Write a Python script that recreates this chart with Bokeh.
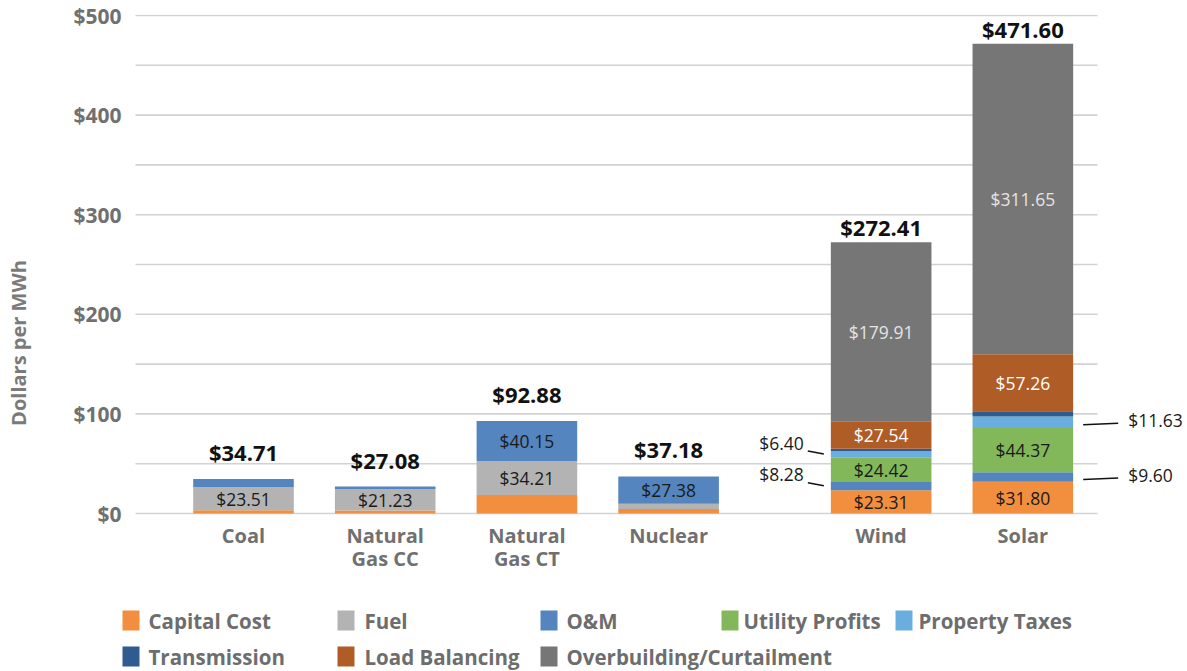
import numpy as np
from bokeh.plotting import figure
from bokeh.models import ColumnDataSource, FixedTicker, Range1d, PrintfTickFormatter
from bokeh.embed import file_html
from bokeh.resources import INLINE
from bokeh.core.properties import value

# ---------------- data ----------------
categories = ["Coal", "Natural\nGas CC", "Natural\nGas CT", "Nuclear", "Wind", "Solar"]
series = ["Capital Cost", "Fuel", "O&M", "Utility Profits", "Property Taxes",
          "Transmission", "Load Balancing", "Overbuilding/Curtailment"]
capital_cost = [3.2, 3.0, 18.52, 4.5, 23.31, 31.80]
fuel = [23.51, 21.23, 34.21, 5.3, 0, 0]
om = [8.0, 2.85, 40.15, 27.38, 8.28, 9.60]
utility_profits = [0, 0, 0, 0, 24.42, 44.37]
property_taxes = [0, 0, 0, 0, 6.40, 11.63]
transmission = [0, 0, 0, 0, 2.55, 5.29]
load_balancing = [0, 0, 0, 0, 27.54, 57.26]
overbuilding = [0, 0, 0, 0, 179.91, 311.65]
totals = [34.71, 27.08, 92.88, 37.18, 272.41, 471.60]
y_label_ticks = [0, 100, 200, 300, 400, 500]
y_grid_ticks = [0, 50, 100, 150, 200, 250, 300, 350, 400, 450, 500]
callouts = [("O&M", "Wind"), ("Property Taxes", "Wind"), ("O&M", "Solar"), ("Property Taxes", "Solar")]

# ---------------- styles / layout ----------------
colors = ["#F18F3F", "#B3B3B3", "#5485BF", "#82B85A", "#6AAEDF", "#2F5B90", "#B05C27", "#767676"]
text_cols = ["#1a1a1a", "#1a1a1a", "#1a1a1a", "#1a1a1a", "#1a1a1a", "#1a1a1a", "#ffffff", "#e4e4e4"]
x_pos = [0, 1, 2, 3, 4.5, 5.5]
bar_w = 0.71
FONT = "Open Sans"
GREY = "#707070"
W, H = 1187, 671
BL, BT = 121, 14            # frame left / top (page px)
PXX = 141.7                 # pixels per x unit
PXY = 498 / 500             # pixels per dollar
X0, Y0 = 243, 513           # page px of first category centre, of $0


def dx(img_x):
    return (img_x - X0) / PXX


def dy(img_y):
    return (Y0 - img_y) / PXY


x_start, x_end = dx(BL), dx(W)
y_start, y_end = dy(H), dy(BT)

keys = ["s%d" % i for i in range(len(series))]
data = [capital_cost, fuel, om, utility_profits, property_taxes, transmission, load_balancing, overbuilding]
src = ColumnDataSource(dict(x=x_pos, **{k: v for k, v in zip(keys, data)}))

p = figure(width=W, height=H, x_range=Range1d(x_start, x_end), y_range=Range1d(y_start, y_end),
           toolbar_location=None, output_backend="svg", x_axis_location=None,
           min_border_left=BL, min_border_right=0, min_border_top=BT, min_border_bottom=0)
p.outline_line_color = None
p.grid.visible = False

# gridlines (limited horizontal extent)
n = len(y_grid_ticks)
p.segment(x0=[dx(135)] * n, y0=y_grid_ticks, x1=[dx(1097)] * n, y1=y_grid_ticks,
          line_color="#d2d2d2", line_width=1.6)

p.vbar_stack(keys, x="x", width=bar_w, source=src, fill_color=colors, line_color=None)

# y axis
p.yaxis.ticker = FixedTicker(ticks=y_label_ticks)
p.yaxis.formatter = PrintfTickFormatter(format="$%d")
p.yaxis.axis_line_color = None
p.yaxis.major_tick_line_color = None
p.yaxis.minor_tick_line_color = None
p.yaxis.major_tick_out = 0
p.yaxis.major_label_standoff = 0
p.yaxis.major_label_text_font = FONT
p.yaxis.major_label_text_font_style = "bold"
p.yaxis.major_label_text_font_size = "21px"
p.yaxis.major_label_text_color = GREY
p.yaxis.axis_label = "Dollars per MWh"
p.yaxis.axis_label_text_font = FONT
p.yaxis.axis_label_text_font_style = "bold"
p.yaxis.axis_label_text_font_size = "20px"
p.yaxis.axis_label_text_color = "#7a7a7a"
p.yaxis.axis_label_standoff = 38

# category labels (below baseline)
for k, off in enumerate([22, 45]):
    xs, ts = [], []
    for x, c in zip(x_pos, categories):
        parts = c.split("\n")
        if k < len(parts):
            xs.append(x); ts.append(parts[k])
    p.text(x=xs, y=[0] * len(xs), text=ts, y_offset=off, text_align="center", text_baseline="middle",
           text_font=value(FONT), text_font_style="bold", text_font_size="20px", text_color=GREY)

# segment labels
vals = np.array(data, dtype=float)
tops = np.cumsum(vals, axis=0)
mids = tops - vals / 2
lx, ly, lt, lc = [], [], [], []
for i in range(vals.shape[0]):
    for j in range(vals.shape[1]):
        if vals[i, j] >= 20:
            lx.append(x_pos[j]); ly.append(mids[i, j]); lt.append("$%.2f" % vals[i, j]); lc.append(text_cols[i])
p.text(x=lx, y=ly, text=lt, text_color=lc, text_align="center", text_baseline="middle",
       text_font=value(FONT), text_font_size="17.5px")

# totals
offs = [-27 if t < 100 else -15 for t in totals]
p.text(x=x_pos, y=totals, text=["$%.2f" % t for t in totals], y_offset=offs,
       text_align="center", text_baseline="middle", text_font=value(FONT),
       text_font_style="bold", text_font_size="22px", text_color="#111111")

# callouts
px = 1 / PXX
flat = [c.replace("\n", " ") for c in categories]
cx0, cy0, cx1, cy1, tx, ty, tt, ta = [], [], [], [], [], [], [], []
for s_name, c_name in callouts:
    i = series.index(s_name)
    j = flat.index(c_name)
    m = mids[i, j]
    if c_name == "Wind":
        L = x_pos[j] - bar_w / 2
        cx0.append(L - 23 * px); cx1.append(L - 7 * px); cy0.append(m + 3.5); cy1.append(m + 0.5)
        tx.append(L - 27 * px); ty.append(m + 12); ta.append("right")
    else:
        R = x_pos[j] + bar_w / 2
        cx0.append(R + 10 * px); cx1.append(R + 45 * px); cy0.append(m - 2.5); cy1.append(m - 1.0)
        tx.append(R + 55 * px); ty.append(m + 2); ta.append("left")
    tt.append("$%.2f" % vals[i, j])
p.segment(x0=cx0, y0=cy0, x1=cx1, y1=cy1, line_color="#111111", line_width=1.6)
p.text(x=tx, y=ty, text=tt, text_align=ta, text_baseline="middle", text_font=value(FONT),
       text_font_size="17.5px", text_color="#1a1a1a")

# ---------------- legend (two rows, fixed columns) ----------------
col_sw = [122, 337, 540, 721, 895]   # swatch left edges (page px)
col_tx = [148, 364, 566, 743, 918]   # label left edges (page px)
rows = [[0, 1, 2, 3, 4], [5, 6, 7]]
row_y = [620, 656]
sx, sy, sc, tx2, ty2, tt2 = [], [], [], [], [], []
for r, items in enumerate(rows):
    for c, idx in enumerate(items):
        sx.append(dx(col_sw[c] + 8.5)); sy.append(dy(row_y[r])); sc.append(colors[idx])
        tx2.append(dx(col_tx[c])); ty2.append(dy(row_y[r])); tt2.append(series[idx])
p.rect(x=sx, y=sy, width=17, height=20, width_units="screen", height_units="screen",
       fill_color=sc, line_color=None)
p.text(x=tx2, y=ty2, text=tt2, text_align="left", text_baseline="middle", text_font=value(FONT),
       text_font_style="bold", text_font_size="20.5px", text_color="#6d6d6d")

open("out.html", "w").write(file_html(p, INLINE))
